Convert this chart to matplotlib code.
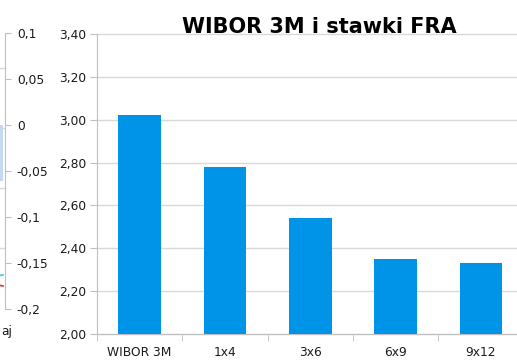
import matplotlib
matplotlib.use("Agg")
from matplotlib import pyplot as plt
import numpy as np

# main chart data
categories = ["WIBOR 3M", "1x4", "3x6", "6x9", "9x12"]
rates = [3.02, 2.78, 2.54, 2.35, 2.33]
y_ticks = [2.00, 2.20, 2.40, 2.60, 2.80, 3.00, 3.20, 3.40]

# fragment of the neighbouring chart (cut off at the left edge)
left_ticks = [-0.2, -0.15, -0.1, -0.05, 0, 0.05, 0.1]
left_labels = ["-0,2", "-0,15", "-0,1", "-0,05", "0", "0,05", "0,1"]
left_bar = [-0.061]
left_grid = [0.062, -0.003, -0.068, -0.134]
left_cyan = [-0.168, -0.163]
left_red = [-0.168, -0.175]

W, H = 517, 360
fig = plt.figure(figsize=(W / 100, H / 100), dpi=100)
txt = "#1a1a1a"
grey = "#BFBFBF"
fs = 8.8

# main axes (right end runs past the picture edge)
ax = fig.add_axes([97 / W, (H - 334) / H, 426.5 / W, 300 / H])
x = np.arange(len(categories))
ax.bar(x, rates, width=0.5, color="#0094E8", zorder=3)
ax.set_xlim(-0.5, len(categories) - 0.5)
ax.set_ylim(2.0, 3.4)
ax.set_yticks(y_ticks)
ax.set_yticklabels([f"{v:.2f}".replace(".", ",") for v in y_ticks])
ax.set_xticks(x)
ax.set_xticklabels(categories)
ax.set_xticks(np.arange(len(categories) + 1) - 0.5, minor=True)
ax.tick_params(axis="x", which="major", length=0, pad=8.5, labelsize=fs, labelcolor=txt)
ax.tick_params(axis="x", which="minor", length=5, color=grey, direction="out")
ax.tick_params(axis="y", length=5, color=grey, pad=3, labelsize=fs, labelcolor=txt)
ax.grid(axis="y", color="#D9D9D9", linewidth=1, zorder=0)
for s in ["top", "right"]:
    ax.spines[s].set_visible(False)
for s in ["left", "bottom"]:
    ax.spines[s].set_color(grey)
for line in ax.get_ygridlines():
    line.set_clip_on(False)

fig.text(319 / W, (H - 33) / H, "WIBOR 3M i stawki FRA", ha="center", va="baseline",
         fontsize=15, fontweight="bold", color="black")

# left fragment
ax2 = fig.add_axes([-30 / W, (H - 309) / H, 35 / W, 276 / H])
ax2.set_facecolor("none")
ax2.set_xlim(-0.5, 0.56)
ax2.set_ylim(-0.2, 0.1)
for g in left_grid:
    ax2.axhline(g, color="#D9D9D9", linewidth=1, zorder=0)
ax2.bar([0], left_bar, width=1.0, color="#C5D9F1", zorder=2)
ax2.plot([-0.5, 0.5], left_cyan, color="#33CCEE", linewidth=1.2, zorder=3)
ax2.plot([-0.5, 0.5], left_red, color="#E03030", linewidth=1.2, zorder=3)
ax2.yaxis.tick_right()
ax2.set_yticks(left_ticks)
ax2.set_yticklabels(left_labels)
ax2.set_xticks([])
ax2.tick_params(axis="y", length=4, color=grey, pad=4.5, labelsize=fs, labelcolor=txt)
for s in ["top", "left", "bottom"]:
    ax2.spines[s].set_visible(False)
ax2.spines["right"].set_color(grey)

fig.text(1 / W, (H - 332) / H, "aj", ha="left", va="center", fontsize=fs, color=txt)

fig.savefig("out.png", dpi=100)
